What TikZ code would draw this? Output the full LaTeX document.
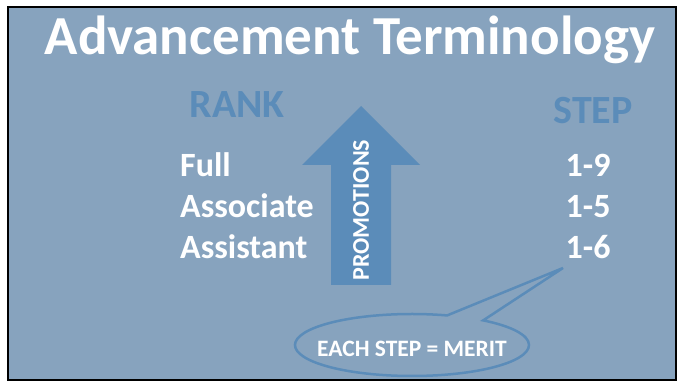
\documentclass[tikz,border=0pt]{standalone}
\usepackage{fontspec}
\setmainfont{Carlito}
\usepackage{tikz}
\usetikzlibrary{matrix}
\usetikzlibrary{shapes.callouts}
\definecolor{slate}{RGB}{135,163,190}
\definecolor{steel}{RGB}{91,140,185}
\newcommand{\fsz}[1]{\fontsize{#1}{#1}\selectfont\bfseries}

\begin{document}
\begin{tikzpicture}[x=1pt,y=-1pt,ampersand replacement=\&,
    txt/.style={text=white,inner sep=0pt,font=\fsz{34}},
    head/.style={text=steel,inner sep=0pt,font=\fsz{40}}]
    \useasboundingbox (0,0) rectangle (683,382);
    \fill[slate] (8,7) rectangle (676,380);
    \draw[line width=2pt] (8,7) rectangle (676,380);
    \node[txt,font=\fsz{55},anchor=base] (title) at (350,55) {Advancement Terminology};
    \node[head,anchor=base] (rank) at (237,118) {RANK};
    \node[head,anchor=base] (step) at (593,124) {STEP};
    % promotions arrow
    \fill[steel] (331,285) -- (331,165) -- (302,165) -- (361,106)
      -- (420,165) -- (391,165) -- (391,285) -- cycle;
    \node[txt,font=\fsz{24},rotate=90] (promo) at (361,210) {PROMOTIONS};
    \matrix (m) [matrix of nodes, anchor=north west, inner sep=0pt,
    row sep=13pt, column sep=252pt,
    nodes={txt,text height=22pt,text depth=6pt},
    column 1/.style={anchor=base west},
    column 2/.style={anchor=base}] at (180,154) {
    Full      \& 1-9 \\
    Associate \& 1-5 \\
    Assistant \& 1-6 \\
    };
    \coordinate (tip) at (563,268);
    \node[ellipse callout, draw=steel, line width=2.5pt, inner sep=0pt,
      minimum width=234pt, minimum height=62pt,
      callout absolute pointer={(tip)}, callout pointer arc=20] (merit) at (412,345) {};
    \node[txt,font=\fsz{23.5},anchor=base] (meritlbl) at ([yshift=-11pt]merit.center) {EACH STEP = MERIT};
\end{tikzpicture}
\end{document}
